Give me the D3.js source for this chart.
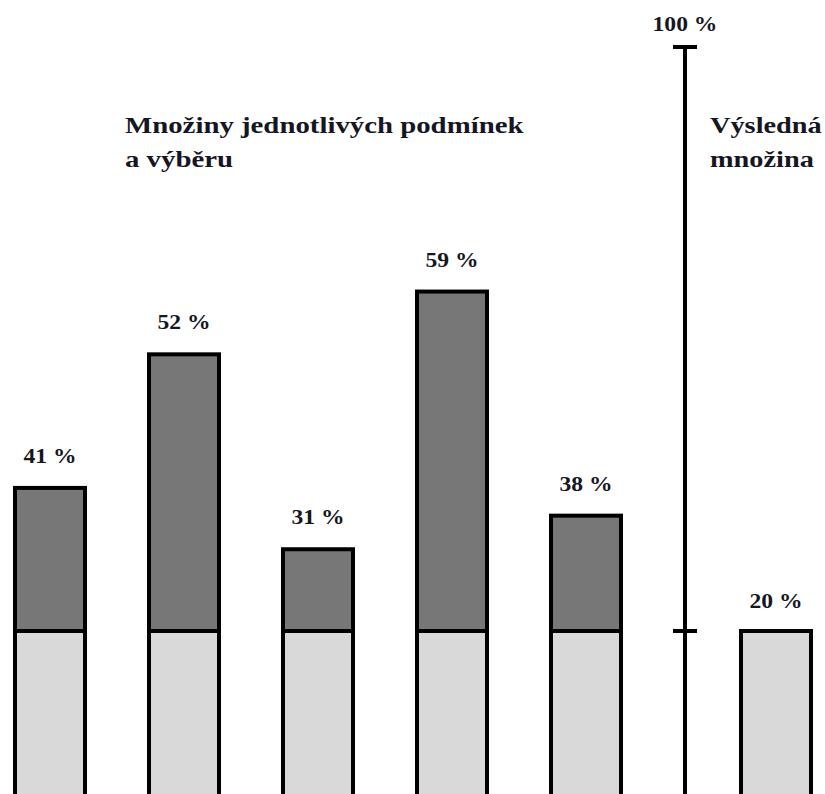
<!DOCTYPE html>
<html>
<head>
<meta charset="utf-8">
<script src="https://cdn.jsdelivr.net/npm/d3@7"></script>
<style>
  body { margin: 0; background: #fff; }
  svg { display: block; }
  text { font-family: "Liberation Serif", "Times New Roman", serif; font-weight: bold; fill: #16161f; }
</style>
</head>
<body>
<div id="chart"></div>
<script>
// popisky sloupců (hodnoty v %)
const labels = [41, 52, 31, 59, 38]
// výška sloupců tak, jak jsou nakreslené (schéma není v měřítku)
const drawnLevels = [39.6, 57.9, 31.2, 66.5, 35.8]
const resultValue = 20
const baseValue = 20
const axisTicks = [100, 20]
const titleLeft = ["Množiny jednotlivých podmínek", "a výběru"]
const titleRight = ["Výsledná", "množina"]

const width = 825, height = 794

const svg = d3.select("#chart").append("svg")
  .attr("width", width)
  .attr("height", height)

const y = d3.scaleLinear().domain([20, 100]).range([631, 47])
const x = d3.scalePoint().domain(d3.range(labels.length)).range([50, 586])
const axisX = 685, resultX = 776
const barW = 70, bottom = height + 10

// text v obrázku je vodorovně roztažený
function stretchText(sel, k) {
  sel.each(function () {
    const len = this.getComputedTextLength()
    d3.select(this).attr("textLength", len * k).attr("lengthAdjust", "spacingAndGlyphs")
  })
}

// spodní světlá část (20 %)
svg.selectAll("rect.base").data(labels).join("rect")
  .attr("class", "base")
  .attr("x", (d, i) => x(i) - barW / 2)
  .attr("y", y(baseValue))
  .attr("width", barW)
  .attr("height", bottom - y(baseValue))
  .attr("fill", "#d9d9d9")
  .attr("stroke", "#000")
  .attr("stroke-width", 4)

// horní tmavá část
svg.selectAll("rect.top").data(drawnLevels).join("rect")
  .attr("class", "top")
  .attr("x", (d, i) => x(i) - barW / 2)
  .attr("y", d => y(d))
  .attr("width", barW)
  .attr("height", d => y(baseValue) - y(d))
  .attr("fill", "#777777")
  .attr("stroke", "#000")
  .attr("stroke-width", 4)

svg.selectAll("text.val").data(labels).join("text")
  .attr("class", "val")
  .attr("x", (d, i) => x(i))
  .attr("y", (d, i) => y(drawnLevels[i]) - 25)
  .attr("text-anchor", "middle")
  .attr("font-size", 20.5)
  .text(d => d + " %")
  .call(stretchText, 1.15)

// výsledný sloupec
svg.append("rect")
  .attr("x", resultX - barW / 2)
  .attr("y", y(resultValue))
  .attr("width", barW)
  .attr("height", bottom - y(resultValue))
  .attr("fill", "#d9d9d9")
  .attr("stroke", "#000")
  .attr("stroke-width", 4)

svg.append("text")
  .attr("x", resultX)
  .attr("y", y(resultValue) - 23)
  .attr("text-anchor", "middle")
  .attr("font-size", 20.5)
  .text(resultValue + " %")
  .call(stretchText, 1.15)

// svislá osa
svg.append("line")
  .attr("x1", axisX).attr("x2", axisX)
  .attr("y1", y(100)).attr("y2", bottom)
  .attr("stroke", "#000")
  .attr("stroke-width", 4)

svg.selectAll("line.tick").data(axisTicks).join("line")
  .attr("class", "tick")
  .attr("x1", axisX - 12).attr("x2", axisX + 12)
  .attr("y1", d => y(d)).attr("y2", d => y(d))
  .attr("stroke", "#000")
  .attr("stroke-width", 4)

svg.append("text")
  .attr("x", axisX)
  .attr("y", y(100) - 16)
  .attr("text-anchor", "middle")
  .attr("font-size", 20.5)
  .text(axisTicks[0] + " %")
  .call(stretchText, 1.15)

svg.selectAll("text.tl").data(titleLeft).join("text")
  .attr("class", "tl")
  .attr("x", 125)
  .attr("y", (d, i) => 133 + i * 34)
  .attr("font-size", 24)
  .text(d => d)
  .call(stretchText, 1.2)

svg.selectAll("text.tr").data(titleRight).join("text")
  .attr("class", "tr")
  .attr("x", 710)
  .attr("y", (d, i) => 133 + i * 34)
  .attr("font-size", 24)
  .text(d => d)
  .call(stretchText, 1.18)
</script>
</body>
</html>
